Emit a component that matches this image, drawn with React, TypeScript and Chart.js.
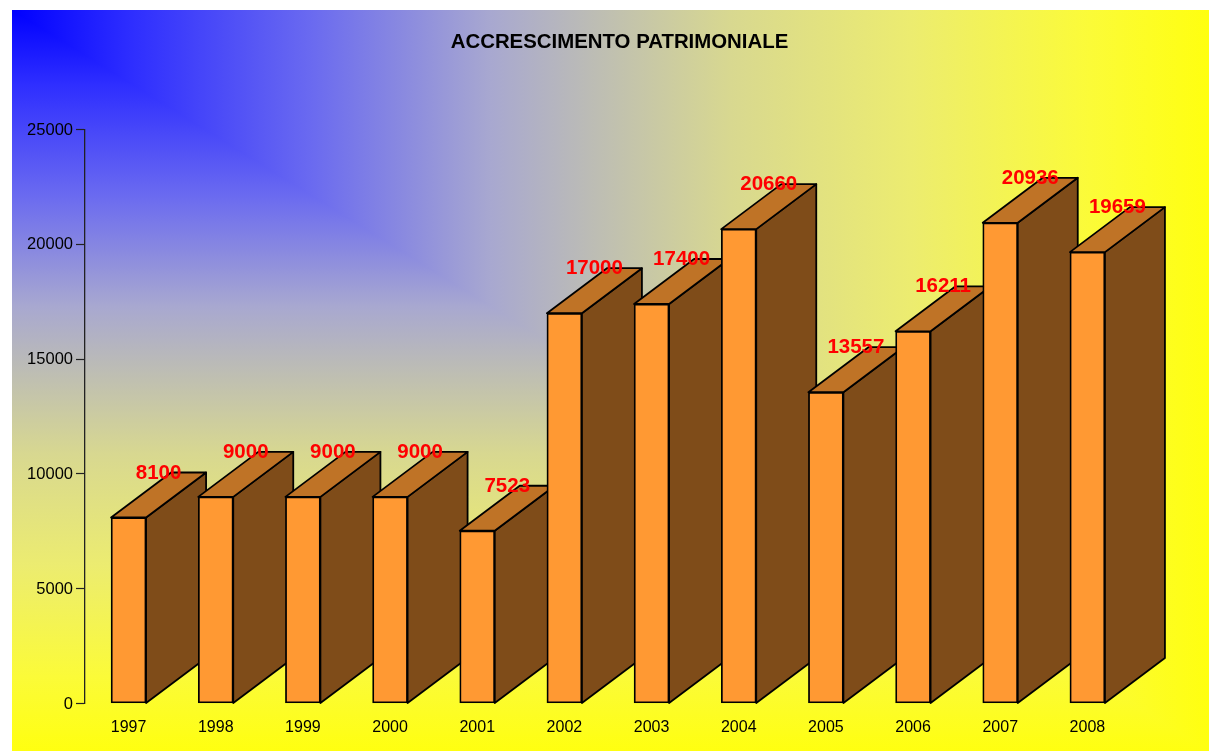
import React, { useEffect, useRef } from "react";
import { Chart, registerables } from "chart.js";

Chart.register(...registerables);

const years = ["1997", "1998", "1999", "2000", "2001", "2002", "2003", "2004", "2005", "2006", "2007", "2008"];
const values = [8100, 9000, 9000, 9000, 7523, 17000, 17400, 20660, 13557, 16211, 20936, 19659];
const titleText = "ACCRESCIMENTO PATRIMONIALE";

const FONT = '"Liberation Sans", Arial, sans-serif';
const DEPTH_X = 60;
const DEPTH_Y = 45;
const GRADIENT_STOPS: [number, string][] = [
  [0, "#0000ff"],
  [0.1, "#2e2eff"],
  [0.25, "#6a6af0"],
  [0.4, "#a8a8d0"],
  [0.5, "#c0c0b0"],
  [0.6, "#d8d890"],
  [0.75, "#ecec70"],
  [0.9, "#fbfb38"],
  [1, "#ffff10"],
];

const gradientBackground = {
  id: "gradientBackground",
  beforeDraw(chart: any) {
    const { ctx, width: w, height: h } = chart;
    ctx.save();
    let g = ctx.createLinearGradient(0, 0, w, 0);
    GRADIENT_STOPS.forEach(([t, c]) => g.addColorStop(t, c));
    ctx.fillStyle = g;
    ctx.fillRect(0, 0, w, h);
    // vertical part, below the diagonal
    ctx.beginPath();
    ctx.moveTo(0, 0);
    ctx.lineTo(w, h);
    ctx.lineTo(0, h);
    ctx.closePath();
    g = ctx.createLinearGradient(0, 0, 0, h);
    GRADIENT_STOPS.forEach(([t, c]) => g.addColorStop(t, c));
    ctx.fillStyle = g;
    ctx.fill();
    ctx.restore();
  },
};

// The title is centred on the canvas, not on the plot area.
const centreTitle = {
  id: "centreTitle",
  afterLayout(chart: any) {
    if (chart.titleBlock) {
      chart.titleBlock.left = 96;
      chart.titleBlock.right = 1119;
    }
  },
};

const bars3d = {
  id: "bars3d",
  beforeDatasetsDraw(chart: any) {
    const { ctx } = chart;
    const bars = chart.getDatasetMeta(0).data;
    ctx.save();
    ctx.strokeStyle = "#000000";
    ctx.lineWidth = 1.8;
    ctx.lineJoin = "round";
    bars.forEach((bar: any) => {
      const r = bar.x + bar.width / 2;
      const l = bar.x - bar.width / 2;
      const t = bar.y;
      const b = bar.base;
      // side face
      ctx.beginPath();
      ctx.moveTo(r, t);
      ctx.lineTo(r + DEPTH_X, t - DEPTH_Y);
      ctx.lineTo(r + DEPTH_X, b - DEPTH_Y);
      ctx.lineTo(r, b);
      ctx.closePath();
      ctx.fillStyle = "#7f4c19";
      ctx.fill();
      ctx.stroke();
      // top face
      ctx.beginPath();
      ctx.moveTo(l, t);
      ctx.lineTo(l + DEPTH_X, t - DEPTH_Y);
      ctx.lineTo(r + DEPTH_X, t - DEPTH_Y);
      ctx.lineTo(r, t);
      ctx.closePath();
      ctx.fillStyle = "#bf7326";
      ctx.fill();
      ctx.stroke();
    });
    ctx.restore();
  },
  afterDatasetsDraw(chart: any) {
    const { ctx } = chart;
    const bars = chart.getDatasetMeta(0).data;
    ctx.save();
    ctx.fillStyle = "#ff0000";
    ctx.font = `bold 20.5px ${FONT}`;
    ctx.textAlign = "center";
    ctx.textBaseline = "middle";
    bars.forEach((bar: any, i: number) => {
      ctx.fillText(String(values[i]), bar.x + DEPTH_X / 2, bar.y - DEPTH_Y + 0.5);
    });
    ctx.restore();
  },
};

export default function App() {
  const ref = useRef<HTMLCanvasElement>(null);
  useEffect(() => {
    const chart = new Chart(ref.current!, {
      type: "bar",
      data: {
        labels: years,
        datasets: [
          {
            data: values,
            backgroundColor: "#ff9933",
            borderColor: "#000000",
            borderWidth: 1.8,
            barThickness: 35,
            borderSkipped: false,
            yAxisID: "y",
          },
        ],
      },
      plugins: [gradientBackground, centreTitle, bars3d],
      options: {
        responsive: false,
        animation: false,
        layout: { padding: { left: 0, right: 78, top: 0, bottom: 0 } },
        plugins: {
          legend: { display: false },
          tooltip: { enabled: false },
          title: {
            display: true,
            text: titleText,
            color: "#000000",
            font: { family: FONT, size: 20.4, weight: "bold", lineHeight: 1.2 },
            padding: { top: 20, bottom: 75 },
          },
        },
        scales: {
          x: {
            offset: true,
            grid: { display: false },
            border: { display: false },
            ticks: {
              color: "#000000",
              font: { family: FONT, size: 16 },
              padding: 6.5,
              maxRotation: 0,
              autoSkip: false,
            },
            afterFit(scale: any) {
              scale.height = 47.5;
            },
          },
          y: {
            min: 0,
            max: 25000,
            position: "left",
            grid: { drawOnChartArea: false, drawTicks: true, tickLength: 9, tickColor: "#222222", tickWidth: 1.2 },
            border: { display: true, color: "#222222", width: 1.3 },
            ticks: {
              stepSize: 5000,
              color: "#000000",
              font: { family: FONT, size: 16.5 },
              padding: 3,
              labelOffset: 0.5,
              callback: (v: any) => String(v),
            },
            afterFit(scale: any) {
              scale.width = 73;
            },
          },
        },
      },
    } as any);
    return () => chart.destroy();
  }, []);
  return (
    <canvas
      ref={ref}
      width={1197}
      height={741}
      style={{ position: "absolute", left: 12, top: 10, display: "block" }}
    />
  );
}
